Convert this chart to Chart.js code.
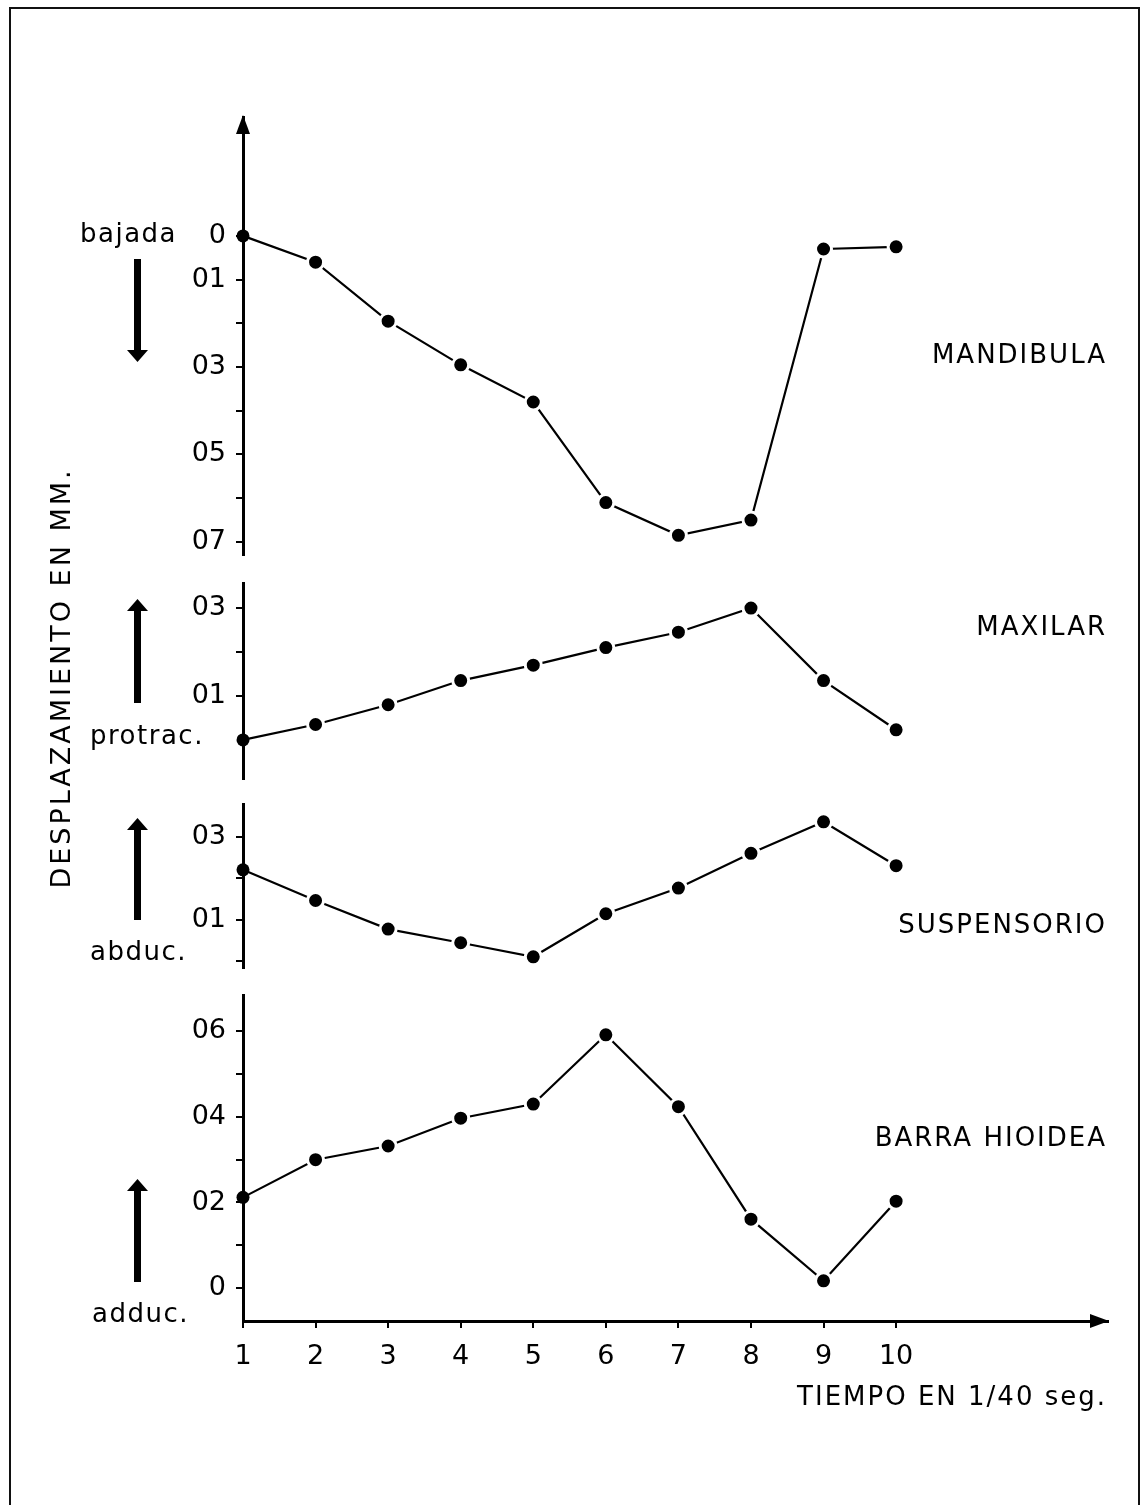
<!DOCTYPE html>
<html>
<head>
<meta charset="utf-8">
<script src="https://cdn.jsdelivr.net/npm/chart.js@4.4.0/dist/chart.umd.min.js"></script>
<style>
  html, body { margin: 0; padding: 0; background: #fff; }
  #hoja { position: relative; width: 1141px; height: 1505px; overflow: hidden; background: #fff; }
  #hoja canvas { position: absolute; left: 0; top: 0; }
  #marco { position: absolute; left: 9px; top: 7px; width: 1127px; height: 1600px; border: 2px solid #111; border-bottom: none; }
</style>
</head>
<body>
<div id="hoja">
  <div id="marco"></div>
  <canvas id="c1" width="1141" height="1505"></canvas>
  <canvas id="c2" width="1141" height="1505"></canvas>
  <canvas id="c3" width="1141" height="1505"></canvas>
  <canvas id="c4" width="1141" height="1505"></canvas>
</div>
<script>
// datos (desplazamiento en mm, tiempo en 1/40 seg)
const tiempo = [1, 2, 3, 4, 5, 6, 7, 8, 9, 10]
const mandibula = [0, 0.06, 0.195, 0.295, 0.38, 0.61, 0.685, 0.65, 0.03, 0.025]
const maxilar = [0, 0.035, 0.08, 0.135, 0.17, 0.21, 0.245, 0.30, 0.135, 0.023]
const suspensorio = [0.22, 0.146, 0.077, 0.044, 0.01, 0.114, 0.176, 0.26, 0.336, 0.23]
const barraHioidea = [0.212, 0.30, 0.332, 0.397, 0.43, 0.592, 0.424, 0.161, 0.017, 0.203]

// marcas del eje y de cada panel
const ticksMandibula = [0, 0.1, 0.2, 0.3, 0.4, 0.5, 0.6, 0.7]
const etiqMandibula = ['0', '01', '', '03', '', '05', '', '07']
const ticksMaxilar = [0.1, 0.2, 0.3]
const etiqMaxilar = ['01', '', '03']
const ticksSuspensorio = [0, 0.1, 0.2, 0.3]
const etiqSuspensorio = ['', '01', '', '03']
const ticksBarra = [0, 0.1, 0.2, 0.3, 0.4, 0.5, 0.6]
const etiqBarra = ['0', '', '02', '', '04', '', '06']

const nombres = ['MANDIBULA', 'MAXILAR', 'SUSPENSORIO', 'BARRA HIOIDEA']
const sentidos = ['bajada', 'protrac.', 'abduc.', 'adduc.']
const tituloY = 'DESPLAZAMIENTO EN MM.'
const tituloX = 'TIEMPO EN 1/40 seg.'

const FUENTE = '"DejaVu Sans", "Noto Sans", sans-serif'
const ALTO = 1505

// disposicion de cada panel (pixeles de la hoja)
const paneles = [
    { canvas: 'c1', datos: mandibula, ticks: ticksMandibula, etiq: etiqMandibula,
      min: -0.272, max: 0.73, reverse: true, top: 117, bottom: 555,
      nombreY: 356, flecha: [259, 362], sentidoY: 242, sentidoX: 80 },
    { canvas: 'c2', datos: maxilar, ticks: ticksMaxilar, etiq: etiqMaxilar,
      min: -0.089, max: 0.357, reverse: false, top: 583, bottom: 779,
      nombreY: 628, flecha: [703, 599], sentidoY: 744, sentidoX: 90 },
    { canvas: 'c3', datos: suspensorio, ticks: ticksSuspensorio, etiq: etiqSuspensorio,
      min: -0.017, max: 0.379, reverse: false, top: 804, bottom: 968,
      nombreY: 926, flecha: [920, 818], sentidoY: 960, sentidoX: 90 },
    { canvas: 'c4', datos: barraHioidea, ticks: ticksBarra, etiq: etiqBarra,
      min: -0.077, max: 0.685, reverse: false, top: 995, bottom: 1321,
      nombreY: 1139, flecha: [1282, 1179], sentidoY: 1322, sentidoX: 92 }
]

function flechaGruesa(ctx, x, yCola, yPunta) {
    const dir = Math.sign(yPunta - yCola)
    const base = yPunta - dir * 12
    ctx.fillRect(x - 3.5, Math.min(yCola, base), 7, Math.abs(base - yCola))
    ctx.beginPath()
    ctx.moveTo(x - 10.5, base)
    ctx.lineTo(x + 10.5, base)
    ctx.lineTo(x, yPunta)
    ctx.closePath()
    ctx.fill()
}

function crearPanel(p, i) {
    const ultimo = i === paneles.length - 1
    const alturaEjeX = 62

    const adornos = {
        id: 'adornos' + i,
        beforeDraw(chart) {
            chart.ctx.letterSpacing = '0px'
        },
        afterDraw(chart) {
            const ctx = chart.ctx
            const area = chart.chartArea
            ctx.save()
            ctx.fillStyle = '#000'

            // nombre del panel a la derecha
            ctx.font = '26px ' + FUENTE
            ctx.letterSpacing = '2px'
            ctx.textAlign = 'right'
            ctx.textBaseline = 'middle'
            ctx.fillText(nombres[i], 1107, p.nombreY)

            // sentido del movimiento
            ctx.letterSpacing = '1.5px'
            ctx.textAlign = 'left'
            ctx.textBaseline = 'alphabetic'
            ctx.fillText(sentidos[i], p.sentidoX, p.sentidoY)
            flechaGruesa(ctx, 137.5, p.flecha[0], p.flecha[1])

            // punta de flecha del eje vertical y titulo
            if (i === 0) {
                ctx.beginPath()
                ctx.moveTo(area.left - 7, area.top + 17)
                ctx.lineTo(area.left + 7, area.top + 17)
                ctx.lineTo(area.left, area.top - 2)
                ctx.closePath()
                ctx.fill()

                ctx.save()
                ctx.font = '27px ' + FUENTE
                ctx.letterSpacing = '3px'
                ctx.textAlign = 'center'
                ctx.textBaseline = 'middle'
                ctx.translate(63, 678)
                ctx.rotate(-Math.PI / 2)
                ctx.fillText(tituloY, 0, 0)
                ctx.restore()
            }

            if (ultimo) {
                ctx.beginPath()
                ctx.moveTo(area.right - 18, area.bottom - 7)
                ctx.lineTo(area.right - 18, area.bottom + 7)
                ctx.lineTo(area.right + 1, area.bottom)
                ctx.closePath()
                ctx.fill()

                ctx.font = '26px ' + FUENTE
                ctx.letterSpacing = '2px'
                ctx.textAlign = 'right'
                ctx.textBaseline = 'middle'
                ctx.fillText(tituloX, 1107, 1398)
            }
            ctx.restore()
        }
    }

    return new Chart(document.getElementById(p.canvas), {
        type: 'line',
        data: {
            datasets: [{
                data: tiempo.map((t, k) => ({ x: t, y: p.datos[k] })),
                borderColor: '#000',
                borderWidth: 2.2,
                tension: 0,
                clip: false,
                pointRadius: c => c.dataIndex === 0 ? 6.5 : 8,
                pointBorderWidth: c => c.dataIndex === 0 ? 0 : 3,
                pointBackgroundColor: '#000',
                pointBorderColor: '#fff'
            }]
        },
        options: {
            responsive: false,
            animation: false,
            events: [],
            layout: {
                padding: {
                    left: 0,
                    right: 1141 - 1108,
                    top: p.top,
                    bottom: ultimo ? ALTO - p.bottom - alturaEjeX : ALTO - p.bottom
                }
            },
            plugins: { legend: { display: false }, tooltip: { enabled: false } },
            scales: {
                x: {
                    type: 'linear',
                    display: ultimo,
                    min: 1,
                    max: 12.92,
                    afterBuildTicks: s => { s.ticks = tiempo.map(v => ({ value: v })) },
                    afterFit: s => { if (ultimo) s.height = alturaEjeX },
                    border: { display: true, color: '#000', width: 3 },
                    grid: { drawOnChartArea: false, drawTicks: true, tickLength: 7, color: '#000', lineWidth: 2 },
                    ticks: {
                        autoSkip: false, maxRotation: 0, color: '#000', padding: 13,
                        font: { family: FUENTE, size: 27 },
                        callback: v => String(v)
                    }
                },
                y: {
                    type: 'linear',
                    min: p.min,
                    max: p.max,
                    reverse: p.reverse,
                    afterBuildTicks: s => { s.ticks = p.ticks.map(v => ({ value: v })) },
                    afterFit: s => { s.width = 243 },
                    border: { display: true, color: '#000', width: 3 },
                    grid: { drawOnChartArea: false, drawTicks: true, tickLength: 7, color: '#000', lineWidth: 2 },
                    ticks: {
                        autoSkip: false, color: '#000', padding: 10,
                        font: { family: FUENTE, size: 27 },
                        callback: (v, k) => p.etiq[k]
                    }
                }
            }
        },
        plugins: [adornos]
    })
}

paneles.forEach(crearPanel)
</script>
</body>
</html>
